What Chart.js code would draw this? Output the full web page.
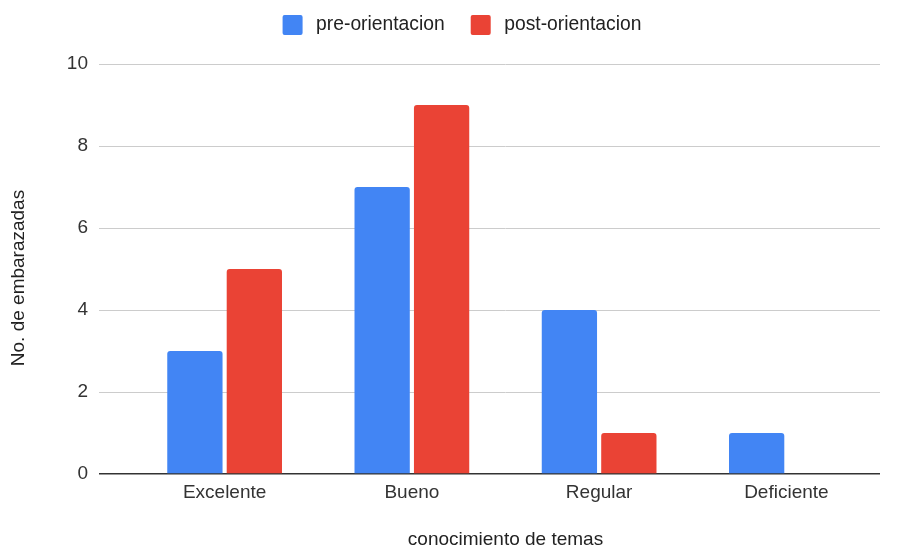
<!DOCTYPE html>
<html>
<head>
<meta charset="utf-8">
<script src="https://cdn.jsdelivr.net/npm/chart.js@4.4.1/dist/chart.umd.min.js"></script>
<style>
  html, body { margin: 0; padding: 0; background: #ffffff; }
  #wrap { width: 902px; height: 548px; }
</style>
</head>
<body>
<div id="wrap"><canvas id="c" width="902" height="548"></canvas></div>
<script>
// Knowledge level categories and the counts before / after the orientation
const categories = ['Excelente', 'Bueno', 'Regular', 'Deficiente'];
const preOrientacion = [3, 7, 4, 1];
const postOrientacion = [5, 9, 1, 0];
const yTicks = [0, 2, 4, 6, 8, 10];
const yTitle = 'No. de embarazadas';
const xTitle = 'conocimiento de temas';

const FONT = '"Liberation Sans", Arial, Helvetica, sans-serif';
const SIZE = 19;

// Nudges the legend block sideways and close to the top edge
const legendOffset = {
  id: 'legendOffset',
  afterLayout(chart, args, opts) {
    const lg = chart.legend;
    if (!lg) return;
    lg.left += opts.dx; lg.right += opts.dx;
    lg.top += opts.dy; lg.bottom += opts.dy;
  }
};

// Vertical y-axis title, placed at the left edge and centred a little below the plot's middle
const yAxisTitle = {
  id: 'yAxisTitle',
  afterDraw(chart, args, opts) {
    const { ctx, chartArea } = chart;
    ctx.save();
    ctx.font = `${SIZE}px ${FONT}`;
    ctx.fillStyle = '#222';
    ctx.textAlign = 'center';
    ctx.textBaseline = 'middle';
    ctx.translate(opts.x, (chartArea.top + chartArea.bottom) / 2 + opts.shift);
    ctx.rotate(-Math.PI / 2);
    ctx.fillText(yTitle, 0, 0);
    ctx.restore();
  }
};

new Chart(document.getElementById('c'), {
  type: 'bar',
  data: {
    labels: categories,
    datasets: [
      {
        label: 'pre-orientacion',
        data: preOrientacion,
        backgroundColor: '#4285f4',
        borderRadius: { topLeft: 3, topRight: 3 },
        borderSkipped: 'bottom'
      },
      {
        label: 'post-orientacion',
        data: postOrientacion,
        backgroundColor: '#ea4335',
        borderRadius: { topLeft: 3, topRight: 3 },
        borderSkipped: 'bottom'
      }
    ]
  },
  plugins: [legendOffset, yAxisTitle],
  options: {
    responsive: false,
    animation: false,
    categoryPercentage: 0.635,
    barPercentage: 0.93,
    layout: { padding: { left: 56, right: 22, top: 8, bottom: 0 } },
    plugins: {
      tooltip: { enabled: false },
      legendOffset: { dx: -6, dy: -19 },
      yAxisTitle: { x: 18.4, shift: 9 },
      legend: {
        position: 'top',
        labels: {
          font: { family: FONT, size: 19.3 },
          color: '#222',
          boxWidth: 20,
          boxHeight: 20,
          useBorderRadius: true,
          borderRadius: 2,
          padding: 26,
          generateLabels(chart) {
            const items = Chart.defaults.plugins.legend.labels.generateLabels(chart);
            items.forEach(it => { it.text = '\u2009' + it.text; });
            return items;
          }
        }
      }
    },
    scales: {
      x: {
        grid: { display: false, drawTicks: false },
        border: { display: false },
        ticks: { font: { family: FONT, size: SIZE }, color: '#333', padding: 7 },
        title: {
          display: true,
          text: xTitle,
          font: { family: FONT, size: SIZE, lineHeight: 0.9 },
          color: '#222',
          padding: { top: 20.1, bottom: 0 }
        }
      },
      y: {
        min: 0,
        max: 10,
        afterBuildTicks: (axis) => { axis.ticks = yTicks.map(v => ({ value: v })); },
        afterFit: (axis) => { axis.width = 75; },
        border: { display: false },
        grid: {
          color: (ctx) => (ctx.tick && ctx.tick.value === 0) ? '#333333' : '#cccccc',
          lineWidth: (ctx) => (ctx.tick && ctx.tick.value === 0) ? 1.5 : 1,
          tickLength: 32,
          drawTicks: true
        },
        ticks: { font: { family: FONT, size: SIZE }, color: '#333', padding: 11 }
      }
    }
  }
});
</script>
</body>
</html>
